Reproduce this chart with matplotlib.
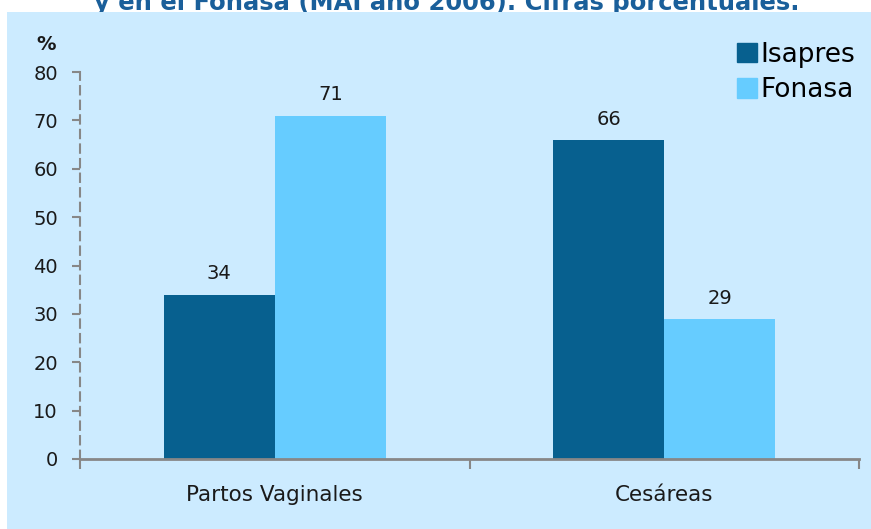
import matplotlib
matplotlib.use("Agg")
import matplotlib.pyplot as plt
from matplotlib.patches import Rectangle, Patch
import numpy as np

categories = ["Partos Vaginales", "Cesáreas"]
series_names = ["Isapres", "Fonasa"]
isapres = [34, 66]
fonasa = [71, 29]
yticks = [0, 10, 20, 30, 40, 50, 60, 70, 80]
title = "y en el Fonasa (MAI año 2006). Cifras porcentuales."

c_isa = "#07608F"
c_fon = "#66CCFF"
bg = "#CCEBFF"
axcol = "#878787"

plt.rcParams['font.family'] = ['DejaVu Sans']

fig = plt.figure(figsize=(8.71, 5.29), dpi=100)
fig.patch.set_facecolor("white")
panel = Rectangle((7/871, 0), 1 - 7/871, (529-12)/529, transform=fig.transFigure,
                  facecolor=bg, edgecolor="none", zorder=-2)
fig.add_artist(panel)
fig.text(447/871, 1 - 10/529, title, ha="center", va="baseline", fontsize=17.5,
         fontweight="bold", color="#1A5F9A", zorder=-3)

ax = fig.add_axes([80/871, (529-459)/529, (859-80)/871, (459-72)/529])
ax.set_facecolor("none")
x = np.arange(len(categories))
w = 0.285
b1 = ax.bar(x - w/2, isapres, w, color=c_isa, label=series_names[0], zorder=2)
b2 = ax.bar(x + w/2, fonasa, w, color=c_fon, label=series_names[1], zorder=2)
for bars in (b1, b2):
    for r in bars:
        ax.annotate(f"{r.get_height():g}", (r.get_x() + r.get_width()/2, r.get_height()),
                    xytext=(0, 8), textcoords="offset points", ha="center", va="bottom",
                    fontsize=14, color="#1a1a1a")

ax.set_xlim(-0.5, 1.5)
ax.set_ylim(0, 80)
ax.set_yticks(yticks)
ax.set_xticks(x)
ax.set_xticklabels(categories, fontsize=15.5, color="#1a1a1a")
ax.set_xticks([-0.5, 0.5, 1.5], minor=True)
ax.tick_params(axis="x", which="major", length=0, pad=19)
ax.tick_params(axis="x", which="minor", length=7, width=1.5, color=axcol, direction="out")
ax.tick_params(axis="y", length=6, width=1.5, color=axcol, labelsize=14, labelcolor="#1a1a1a", pad=10)
for s in ("top", "right"):
    ax.spines[s].set_visible(False)
ax.spines["left"].set_color(axcol)
ax.spines["left"].set_linewidth(1.5)
ax.spines["left"].set_linestyle((0, (4, 3)))
ax.spines["bottom"].set_color(axcol)
ax.spines["bottom"].set_linewidth(2)

fig.text(46/871, 1 - 45/529, "%", ha="center", va="center", fontsize=14, fontweight="bold", color="#1a1a1a")

leg = fig.legend(handles=[Patch(color=c_isa), Patch(color=c_fon)], labels=series_names,
                 loc="upper left", bbox_to_anchor=(737/871, 1 - 42/529), frameon=False, fontsize=19,
                 handlelength=0.75, handleheight=0.75, handletextpad=0.15, labelspacing=0.35,
                 borderpad=0, borderaxespad=0)

fig.savefig("out.png", dpi=100, facecolor=fig.get_facecolor())
